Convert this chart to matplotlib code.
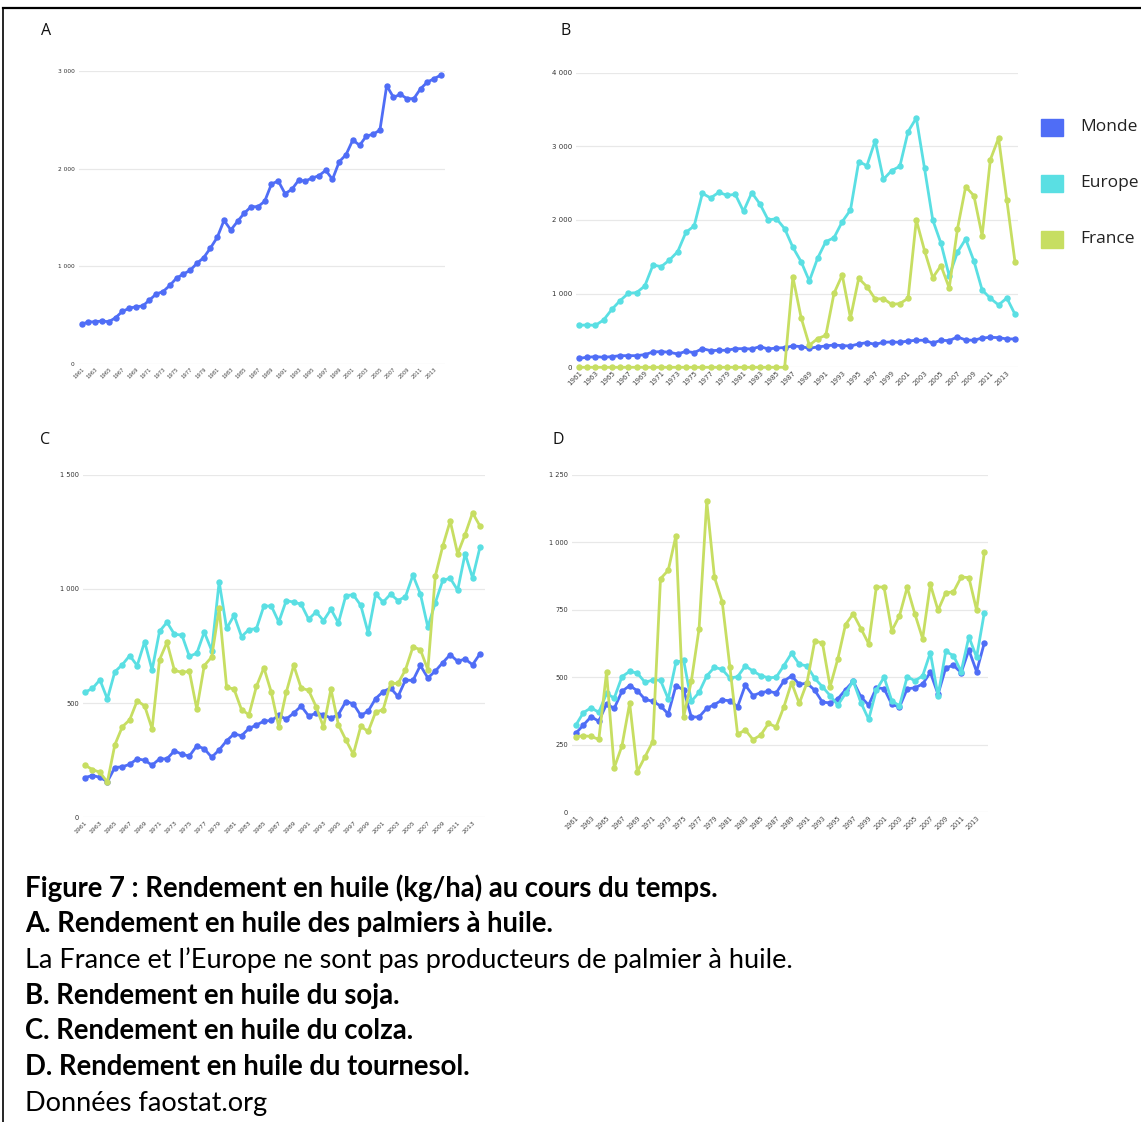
import matplotlib
matplotlib.use("Agg")
import matplotlib.pyplot as plt
from matplotlib.lines import Line2D
from matplotlib.patches import Rectangle
from matplotlib.ticker import FuncFormatter, FixedLocator

years = list(range(1961, 2015))
tick_years = list(range(1961, 2014, 2))
series_names = ["Monde", "Europe", "France"]
series_colors = ["#4F6DF6", "#5ADFE3", "#C7DE62"]

# A - palmier à huile (Monde)
palm_world = [409, 430, 433, 440, 433, 474, 539, 570, 587, 594,
              655, 717, 741, 805, 880, 921, 959, 1031, 1089, 1188,
              1297, 1471, 1372, 1461, 1546, 1611, 1611, 1666, 1843, 1874,
              1744, 1788, 1881, 1874, 1904, 1928, 1983, 1891, 2072, 2143,
              2294, 2239, 2334, 2352, 2396, 2850, 2730, 2761, 2717, 2717,
              2819, 2887, 2921, 2959]

# B - soja
soy_world = [122, 136, 145, 136, 145, 158, 158, 158, 172, 208,
             213, 204, 181, 217, 199, 253, 226, 231, 231, 253,
             253, 249, 281, 249, 262, 267, 290, 281, 258, 276,
             290, 303, 294, 290, 317, 335, 312, 339, 344, 339,
             357, 367, 367, 330, 367, 362, 412, 371, 367, 398,
             407, 403, 385, 385]
soy_europe = [570, 575, 570, 643, 787, 905, 1005, 1014, 1104, 1389,
              1367, 1457, 1570, 1833, 1919, 2362, 2299, 2376, 2335, 2348,
              2118, 2371, 2217, 2000, 2018, 1882, 1629, 1434, 1172, 1480,
              1706, 1760, 1977, 2136, 2792, 2738, 3077, 2552, 2670, 2729,
              3199, 3385, 2701, 2000, 1683, 1240, 1561, 1742, 1443, 1050,
              937, 846, 941, 719]
soy_france = [0, 0, 0, 0, 0, 0, 0, 0, 0, 0,
              0, 0, 0, 0, 0, 0, 0, 0, 0, 0,
              0, 0, 0, 0, 0, 0, 1226, 674, 299, 389,
              434, 1005, 1253, 670, 1208, 1095, 928, 932, 855, 864,
              937, 2000, 1584, 1217, 1380, 1077, 1878, 2452, 2330, 1787,
              2819, 3113, 2271, 1425]

# C - colza
rape_world = [174, 183, 175, 156, 218, 221, 232, 256, 250, 228,
              256, 256, 291, 276, 268, 313, 300, 263, 295, 335,
              365, 357, 389, 404, 421, 424, 446, 430, 456, 487,
              444, 455, 450, 434, 450, 507, 497, 446, 465, 520,
              550, 566, 529, 601, 599, 665, 610, 640, 677, 712,
              683, 693, 668, 716]
rape_europe = [548, 564, 602, 518, 637, 668, 708, 664, 769, 645,
               814, 854, 801, 798, 705, 718, 811, 730, 1031, 827,
               884, 791, 822, 826, 925, 925, 855, 949, 942, 933,
               867, 899, 861, 911, 851, 971, 974, 928, 807, 978,
               942, 977, 949, 966, 1060, 978, 833, 939, 1037, 1047,
               994, 1154, 1048, 1183]
rape_france = [228, 209, 197, 154, 317, 396, 427, 510, 488, 387,
               690, 766, 643, 635, 639, 474, 664, 702, 915, 570,
               561, 471, 449, 573, 655, 547, 396, 547, 665, 566,
               556, 485, 395, 561, 405, 339, 276, 398, 376, 461,
               471, 586, 586, 646, 746, 734, 646, 1056, 1187, 1297,
               1154, 1238, 1333, 1275]

# D - tournesol
sun_world = [292, 323, 354, 337, 401, 385, 448, 469, 450, 418,
             411, 394, 364, 469, 453, 353, 353, 385, 399, 416,
             413, 391, 471, 432, 443, 448, 442, 486, 505, 474,
             478, 452, 408, 405, 420, 454, 485, 427, 397, 461,
             458, 400, 390, 457, 461, 475, 518, 437, 535, 544,
             517, 601, 521, 627]
sun_europe = [322, 369, 387, 370, 440, 423, 502, 522, 515, 481,
              490, 489, 420, 555, 563, 411, 444, 505, 537, 529,
              497, 502, 542, 523, 506, 498, 500, 543, 589, 548,
              542, 496, 465, 432, 397, 440, 486, 406, 344, 453,
              500, 413, 394, 502, 487, 505, 591, 431, 596, 580,
              521, 650, 574, 739]
sun_france = [280, 283, 281, 270, 518, 165, 246, 404, 151, 206,
              262, 865, 896, 1024, 353, 486, 679, 1151, 870, 780,
              538, 289, 305, 269, 286, 329, 316, 390, 480, 403,
              480, 633, 628, 465, 568, 695, 735, 680, 624, 835,
              833, 672, 728, 833, 734, 643, 844, 748, 813, 816,
              871, 869, 749, 962]

W, H = 1141, 1122
fig = plt.figure(figsize=(W / 100, H / 100), dpi=100)


def add_ax(x0, x1, ytop, ybot):
    return fig.add_axes([x0 / W, 1 - ybot / H, (x1 - x0) / W, (ybot - ytop) / H])


def fmt_thousands(v, pos):
    v = int(round(v))
    return f"{v:,}".replace(",", " ")


def style(ax, xlim, ymax, ystep, xfs, yfs):
    ax.set_xlim(*xlim)
    ax.set_ylim(0, ymax)
    for s in ax.spines.values():
        s.set_visible(False)
    ax.yaxis.set_major_locator(FixedLocator(list(range(0, ymax + 1, ystep))))
    ax.yaxis.set_major_formatter(FuncFormatter(fmt_thousands))
    ax.xaxis.set_major_locator(FixedLocator(tick_years))
    ax.set_xticklabels([str(y) for y in tick_years], rotation=45,
                       ha="right", rotation_mode="anchor")
    ax.tick_params(axis="x", length=0, pad=2, labelsize=xfs, colors="#444444")
    ax.tick_params(axis="y", length=0, pad=3, labelsize=yfs, colors="#333333")
    ax.grid(axis="y", color="#e8e8e8", lw=0.9)
    ax.set_axisbelow(True)


def plot_series(ax, data_list):
    for data, c in zip(data_list, series_colors):
        if data is None:
            continue
        ax.plot(years, data, color=c, lw=2.0, marker="o", ms=3.6,
                mec=c, mfc=c, clip_on=False, solid_joinstyle="round")


# Panel A
axA = add_ax(79, 445, 71, 364)
style(axA, (1960.6, 2014.6), 3000, 1000, 3.8, 4.2)
plot_series(axA, [palm_world, None, None])

# Panel B
axB = add_ax(576, 1018, 72.7, 367.3)
style(axB, (1960.64, 2014.36), 4000, 1000, 5.0, 5.0)
plot_series(axB, [soy_world, soy_europe, soy_france])

# Panel C
axC = add_ax(83, 485, 474.7, 817.3)
style(axC, (1960.73, 2014.67), 1500, 500, 4.5, 4.8)
plot_series(axC, [rape_world, rape_europe, rape_france])

# Panel D
axD = add_ax(572, 988, 474.7, 812.3)
style(axD, (1960.52, 2014.48), 1250, 250, 4.7, 4.8)
plot_series(axD, [sun_world, sun_europe, sun_france])

# Panel letters
for lab, x, y in [("A", 41, 31), ("B", 561, 31), ("C", 40, 440), ("D", 552, 440)]:
    fig.text(x / W, 1 - y / H, lab, fontsize=11.5, family="Open Sans",
             va="center", ha="left", color="#111111")

# Legend
leg_y = [127, 183, 239]
for name, c, y in zip(series_names, series_colors, leg_y):
    fig.patches.append(Rectangle((1041 / W, 1 - (y + 8.5) / H), 22 / W, 17 / H,
                                 transform=fig.transFigure, color=c))
    fig.text(1080 / W, 1 - y / H, name, fontsize=12.5, family="Open Sans",
             va="center", ha="left", color="#222222")

# Border lines
fig.add_artist(Line2D([3 / W, 1], [1 - 8 / H, 1 - 8 / H], color="black", lw=1.6,
                      transform=fig.transFigure))
fig.add_artist(Line2D([3 / W, 3 / W], [0, 1 - 8 / H], color="black", lw=1.2,
                      transform=fig.transFigure))

# Caption
caption = [
    ("Figure 7 : Rendement en huile (kg/ha) au cours du temps.", "bold", 888),
    ("A. Rendement en huile des palmiers à huile.", "bold", 924),
    ("La France et l’Europe ne sont pas producteurs de palmier à huile.", "normal", 960),
    ("B. Rendement en huile du soja.", "bold", 996),
    ("C. Rendement en huile du colza.", "bold", 1031),
    ("D. Rendement en huile du tournesol.", "bold", 1067),
    ("Données faostat.org", "normal", 1103),
]
cap_texts = []
for txt, wt, y in caption:
    t = fig.text(25 / W, 1 - y / H, txt, fontsize=15, family="Lato",
                 weight=wt, va="center", ha="left", color="black")
    cap_texts.append(t)

# scale caption font to match reference widths
fig.canvas.draw()
r = fig.canvas.get_renderer()
w_bold = cap_texts[0].get_window_extent(r).width
w_norm = cap_texts[2].get_window_extent(r).width
fb = 15 * 698 / w_bold
fn = 15 * 772 / w_norm
for t, (txt, wt, y) in zip(cap_texts, caption):
    t.set_fontsize(fb if wt == "bold" else fn)

fig.savefig("out.png", dpi=100)
